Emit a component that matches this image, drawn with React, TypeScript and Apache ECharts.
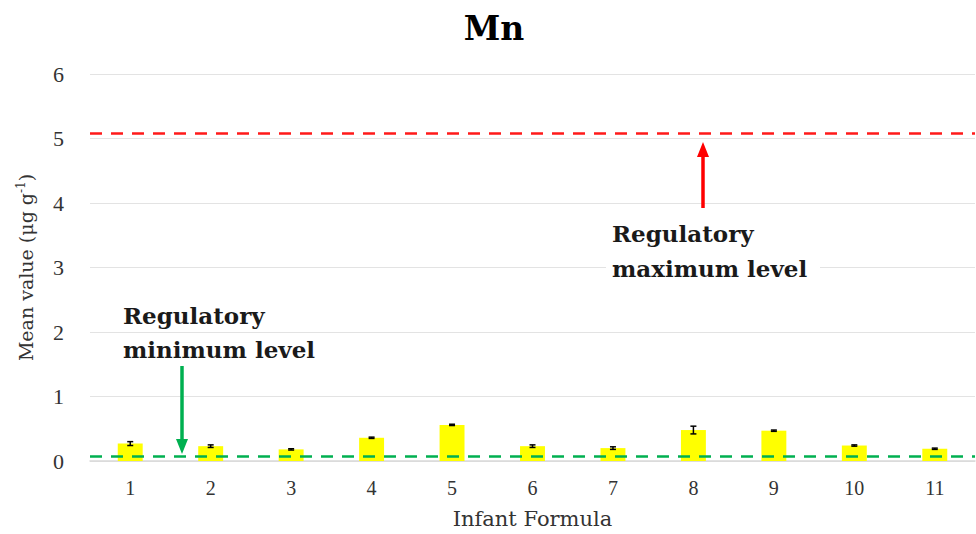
import React, { useEffect, useRef } from "react";
import * as echarts from "echarts";

const categories = ["1", "2", "3", "4", "5", "6", "7", "8", "9", "10", "11"];
const meanValues = [0.27, 0.23, 0.18, 0.36, 0.56, 0.23, 0.2, 0.48, 0.47, 0.24, 0.19];
const errorValues = [0.03, 0.02, 0.01, 0.01, 0.01, 0.02, 0.02, 0.06, 0.01, 0.01, 0.01];
const maxLevel = 5.08;
const minLevel = 0.065;
const yTicks = [0, 6, 1];

const TICKFONT = "'Liberation Serif', 'Times New Roman', serif";
const FONT = "'DejaVu Serif', 'Liberation Serif', serif";

export default function App() {
  const ref = useRef<HTMLDivElement>(null);
  useEffect(() => {
    document.body.style.margin = "0";
    const chart = echarts.init(ref.current!, null, { renderer: "svg" });
    const errData = meanValues.map((v, i) => [i, v - errorValues[i], v + errorValues[i]]);
    chart.setOption({
      animation: false,
      backgroundColor: "#ffffff",
      textStyle: { fontFamily: FONT },
      grid: { left: 90, right: 1, top: 74, bottom: 72 },
      xAxis: {
        type: "category",
        data: categories,
        axisLine: { show: true, lineStyle: { color: "#d9d9d9", width: 1.5 } },
        axisTick: { show: false },
        axisLabel: { color: "#333", fontSize: 20, fontFamily: TICKFONT, margin: 17 },
        name: "Infant Formula",
        nameLocation: "middle",
        nameGap: 47,
        nameTextStyle: { color: "#333", fontSize: 21, fontFamily: FONT },
      },
      yAxis: {
        type: "value",
        min: yTicks[0],
        max: yTicks[1],
        interval: yTicks[2],
        axisLine: { show: false },
        axisTick: { show: false },
        splitLine: { lineStyle: { color: "#e3e3e3", width: 1.2 } },
        axisLabel: { color: "#333", fontSize: 22, fontFamily: TICKFONT, margin: 26 },
        name: "Mean value (μg g{sup|-1})",
        nameLocation: "middle",
        nameGap: 54,
        nameTextStyle: {
          color: "#333",
          fontSize: 19,
          fontFamily: FONT,
          rich: { sup: { fontSize: 12, fontFamily: FONT, color: "#333", verticalAlign: "top", padding: [0, 0, 9, 0] } },
        },
      },
      series: [
        {
          type: "bar",
          data: meanValues,
          barWidth: "31%",
          itemStyle: { color: "#ffff00" },
          markLine: {
            silent: true,
            symbol: "none",
            label: { show: false },
            data: [
              { yAxis: maxLevel, lineStyle: { color: "#ff1a1a", type: [12, 9], width: 2.5 } },
              { yAxis: minLevel, lineStyle: { color: "#00b050", type: [12, 9], width: 2.5 } },
            ],
          },
        },
        {
          type: "custom",
          data: errData,
          z: 5,
          renderItem: (params: any, api: any) => {
            const x = api.value(0);
            const lo = api.coord([x, api.value(1)]);
            const hi = api.coord([x, api.value(2)]);
            const cw = 3;
            const style = { stroke: "#000", lineWidth: 1.5 };
            return {
              type: "group",
              children: [
                { type: "line", shape: { x1: lo[0], y1: lo[1], x2: hi[0], y2: hi[1] }, style },
                { type: "line", shape: { x1: lo[0] - cw, y1: lo[1], x2: lo[0] + cw, y2: lo[1] }, style },
                { type: "line", shape: { x1: hi[0] - cw, y1: hi[1], x2: hi[0] + cw, y2: hi[1] }, style },
              ],
            };
          },
        },
      ],
      graphic: [
        {
          type: "text",
          x: 494,
          y: 28,
          z: 10,
          style: { text: "Mn", font: `bold 33px ${FONT}`, fill: "#000", align: "center", verticalAlign: "middle" },
        },
        {
          type: "rect",
          z: 9,
          shape: { x: 606, y: 218, width: 214, height: 68 },
          style: { fill: "#ffffff" },
        },
        {
          type: "text",
          x: 612,
          y: 233,
          z: 10,
          style: { text: "Regulatory", font: `bold 23px ${FONT}`, fill: "#1a1a1a", align: "left", verticalAlign: "middle" },
        },
        {
          type: "text",
          x: 612,
          y: 268,
          z: 10,
          style: { text: "maximum level", font: `bold 23px ${FONT}`, fill: "#1a1a1a", align: "left", verticalAlign: "middle" },
        },
        {
          type: "text",
          x: 123,
          y: 315,
          z: 10,
          style: { text: "Regulatory", font: `bold 23px ${FONT}`, fill: "#1a1a1a", align: "left", verticalAlign: "middle" },
        },
        {
          type: "text",
          x: 123,
          y: 349,
          z: 10,
          style: { text: "minimum level", font: `bold 23px ${FONT}`, fill: "#1a1a1a", align: "left", verticalAlign: "middle" },
        },
        {
          type: "line",
          z: 10,
          shape: { x1: 703, y1: 208, x2: 703, y2: 156 },
          style: { stroke: "#ff0000", lineWidth: 3.5 },
        },
        {
          type: "polygon",
          z: 10,
          shape: { points: [[703, 142], [697, 157], [709, 157]] },
          style: { fill: "#ff0000" },
        },
        {
          type: "line",
          z: 10,
          shape: { x1: 182, y1: 366, x2: 182, y2: 440 },
          style: { stroke: "#00b050", lineWidth: 3.5 },
        },
        {
          type: "polygon",
          z: 10,
          shape: { points: [[182, 454], [176, 439], [188, 439]] },
          style: { fill: "#00b050" },
        },
      ],
    });
    return () => chart.dispose();
  }, []);
  return <div ref={ref} style={{ width: 976, height: 534 }} />;
}
